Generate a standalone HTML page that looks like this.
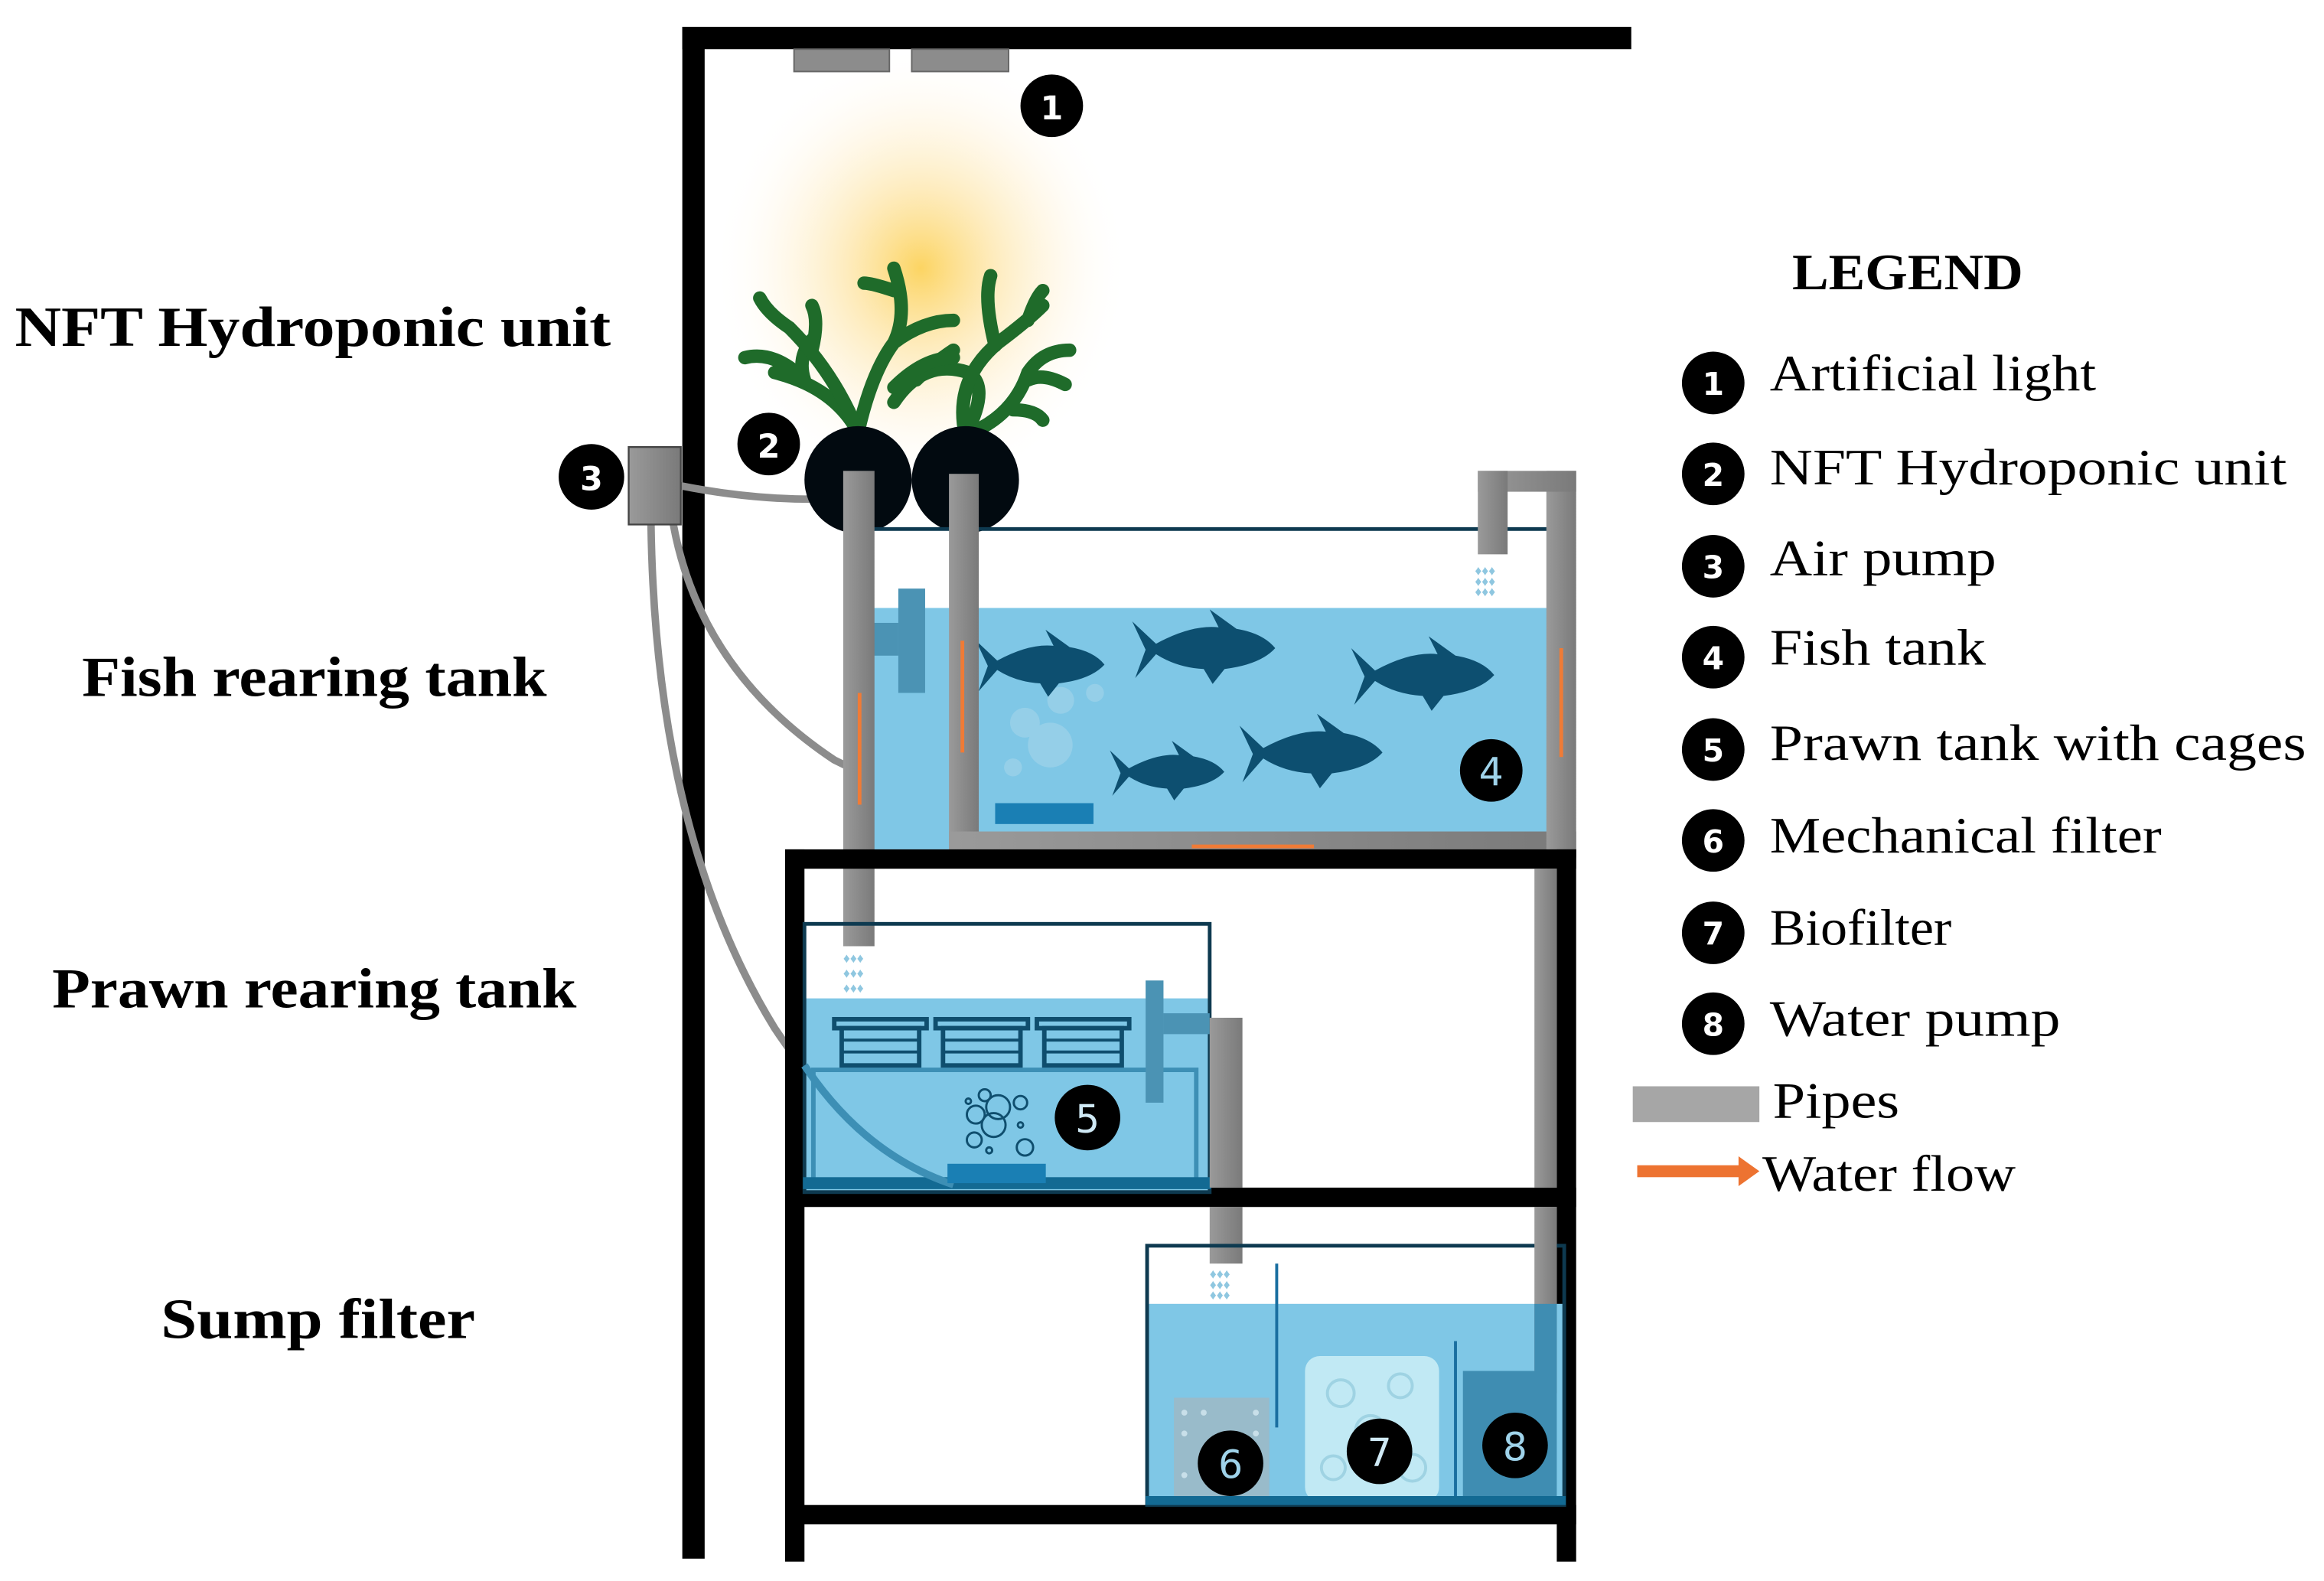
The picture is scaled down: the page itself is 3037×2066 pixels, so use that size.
<!DOCTYPE html>
<html><head><meta charset="utf-8"><style>
html,body{margin:0;padding:0;background:#fff;}
svg{display:block;}
</style></head><body>
<svg width="3037" height="2066" viewBox="0 0 1560 1061" preserveAspectRatio="none" xmlns="http://www.w3.org/2000/svg">
<defs>
<radialGradient id="glow" cx="0.5" cy="0.5" r="0.5">
<stop offset="0" stop-color="#fcd25a" stop-opacity="0.95"/>
<stop offset="0.35" stop-color="#fde3a0" stop-opacity="0.7"/>
<stop offset="0.7" stop-color="#fff3da" stop-opacity="0.4"/>
<stop offset="1" stop-color="#fff" stop-opacity="0"/>
</radialGradient>
<linearGradient id="pg" x1="0" x2="1" y1="0" y2="0">
<stop offset="0" stop-color="#9a9a9a"/><stop offset="1" stop-color="#7a7a7a"/>
</linearGradient>
<path id="fish" d="M0,2 L16,17 Q40,4 58,6 L52,-6 L70,7 Q88,10 96,20 Q86,31 62,34 L54,44 L48,34 Q30,33 16,24 L2,40 L9,21 Z" fill="#0d4f70"/>
</defs>
<rect width="1560" height="1061" fill="#fff"/>

<!-- glow -->
<ellipse cx="618" cy="180" rx="140" ry="150" fill="url(#glow)"/>

<!-- main frame -->
<rect x="458" y="18" width="15" height="1028" fill="#000"/>
<rect x="458" y="18" width="637" height="15" fill="#000"/>
<rect x="533" y="33" width="64" height="15" fill="#8c8c8c" stroke="#666" stroke-width="1"/>
<rect x="612" y="33" width="65" height="15" fill="#8c8c8c" stroke="#666" stroke-width="1"/>

<!-- plant -->
<g stroke="#1f6b2a" stroke-width="9" stroke-linecap="round" fill="none">
<path d="M576,290 Q560,260 520,250 M540,255 Q520,235 500,240 M540,255 Q535,240 545,228"/>
<path d="M576,290 Q585,250 600,230 Q610,210 600,180 M600,230 Q620,215 640,215 M600,195 Q585,190 580,190"/>
<path d="M576,290 Q560,250 530,220 M545,235 Q550,215 545,205 M530,220 Q515,210 510,200"/>
<path d="M600,270 Q620,240 650,250 Q665,260 648,292 M615,255 Q625,245 640,235"/>
<path d="M648,292 Q680,280 690,250 Q700,235 718,235 M690,255 Q700,250 715,258 M680,275 Q695,275 700,282"/>
<path d="M648,292 Q640,255 670,230 Q690,215 700,205 M668,232 Q660,200 665,185 M690,215 Q695,200 700,195"/>
<path d="M600,260 Q620,240 640,240"/>
</g>

<!-- air pump and tubes -->
<path d="M452,325 Q500,335 545,335" stroke="#8c8c8c" stroke-width="5" fill="none"/>
<path d="M452,352 Q470,450 560,510 Q620,540 670,545" stroke="#8c8c8c" stroke-width="5" fill="none"/>
<path d="M437,352 Q440,560 520,690 Q580,780 645,795" stroke="#8c8c8c" stroke-width="5" fill="none"/>
<rect x="422" y="300" width="35" height="52" fill="url(#pg)" stroke="#444" stroke-width="1.2"/>

<!-- NFT circles -->
<circle cx="576" cy="322" r="36" fill="#020a10"/>
<circle cx="648" cy="322" r="36" fill="#020a10"/>

<!-- fish tank -->
<rect x="585" y="408" width="455" height="162" fill="#7fc7e6"/>
<line x1="585" y1="355" x2="1040" y2="355" stroke="#0e3a50" stroke-width="2.5"/>
<rect x="603" y="395" width="18" height="70" fill="#4b93b4"/>
<rect x="585" y="418" width="18" height="22" fill="#4b93b4"/>
<g fill="#9fd3ea" opacity="0.7">
<circle cx="705" cy="500" r="15"/><circle cx="688" cy="485" r="10"/><circle cx="712" cy="470" r="9"/><circle cx="680" cy="515" r="6"/><circle cx="735" cy="465" r="6"/>
</g>
<use href="#fish" transform="translate(655,428) scale(0.9)"/>
<use href="#fish" transform="translate(760,415) scale(1)"/>
<use href="#fish" transform="translate(907,433) scale(1)"/>
<use href="#fish" transform="translate(832,485) scale(1)"/>
<use href="#fish" transform="translate(745,502) scale(0.8)"/>
<rect x="668" y="539" width="66" height="14" fill="#1a7fb4"/>
<!-- pipes fish tank -->
<rect x="637" y="318" width="20" height="257" fill="url(#pg)"/>
<rect x="637" y="558" width="421" height="17" fill="url(#pg)"/>
<rect x="1038" y="316" width="20" height="260" fill="url(#pg)"/>
<rect x="992" y="316" width="66" height="14" fill="url(#pg)"/>
<rect x="992" y="316" width="20" height="56" fill="url(#pg)"/>
<rect x="566" y="316" width="21" height="319" fill="url(#pg)"/>
<g stroke="#f07b36" stroke-width="2.5">
<line x1="577" y1="465" x2="577" y2="540"/>
<line x1="646" y1="430" x2="646" y2="505"/>
<line x1="1048" y1="435" x2="1048" y2="508"/>
<line x1="800" y1="568" x2="882" y2="568"/>
<line x1="824" y1="710" x2="824" y2="785"/>
<line x1="1038" y1="660" x2="1038" y2="738"/>
</g>
<!-- drops -->
<g fill="#8fc7e0" font-family="Liberation Sans" font-size="9">
<text x="990" y="386">♦♦♦</text><text x="990" y="393">♦♦♦</text><text x="990" y="400">♦♦♦</text>
<text x="566" y="646">♦♦♦</text><text x="566" y="656">♦♦♦</text><text x="566" y="666">♦♦♦</text>
<text x="812" y="858">♦♦♦</text><text x="812" y="865">♦♦♦</text><text x="812" y="872">♦♦♦</text>
</g>

<!-- shelf frame -->
<rect x="527" y="570" width="531" height="13" fill="#000"/>
<rect x="527" y="570" width="13" height="478" fill="#000"/>
<rect x="1045" y="570" width="13" height="478" fill="#000"/>
<rect x="527" y="797" width="531" height="13" fill="#000"/>
<rect x="527" y="1010" width="531" height="13" fill="#000"/>

<!-- prawn tank -->
<rect x="540" y="670" width="272" height="130" fill="#7fc7e6"/>
<rect x="540" y="620" width="272" height="180" fill="none" stroke="#0e3a50" stroke-width="2.5"/>
<path d="M546,797 L546,718 L803,718 L803,797" stroke="#3d8fb5" stroke-width="3" fill="none"/>
<rect x="539" y="790" width="274" height="8" fill="#136a93"/>
<path d="M540,715 Q580,775 640,795" stroke="#3d8fb5" stroke-width="5" fill="none"/>
<rect x="636" y="781" width="66" height="13" fill="#1a7fb4"/>
<g fill="none" stroke="#0f4e6e" stroke-width="3">
<rect x="560" y="684" width="62" height="6"/><rect x="565" y="690" width="52" height="25"/>
<rect x="628" y="684" width="62" height="6"/><rect x="633" y="690" width="52" height="25"/>
<rect x="696" y="684" width="62" height="6"/><rect x="701" y="690" width="52" height="25"/>
<path d="M565,698 H617 M565,706 H617 M633,698 H685 M633,706 H685 M701,698 H753 M701,706 H753" stroke-width="2"/>
</g>
<g fill="none" stroke="#0f4e6e" stroke-width="1.5">
<circle cx="670" cy="743" r="8"/><circle cx="667" cy="755" r="8"/><circle cx="655" cy="748" r="6"/><circle cx="685" cy="740" r="4.5"/><circle cx="661" cy="735" r="4"/><circle cx="654" cy="765" r="5"/><circle cx="688" cy="770" r="5.5"/><circle cx="650" cy="739" r="1.8"/><circle cx="685" cy="755" r="1.8"/><circle cx="664" cy="772" r="2"/>
</g>
<rect x="769" y="658" width="12" height="82" fill="#4b93b4"/>
<rect x="781" y="680" width="31" height="14" fill="#4b93b4"/>
<rect x="812" y="683" width="22" height="114" fill="url(#pg)"/>
<rect x="812" y="810" width="22" height="38" fill="url(#pg)"/>

<!-- sump -->
<rect x="770" y="875" width="280" height="135" fill="#7fc7e6"/>
<rect x="770" y="836" width="280" height="174" fill="none" stroke="#0e3a50" stroke-width="2.5"/>
<rect x="1030" y="583" width="15" height="214" fill="url(#pg)"/>
<rect x="1030" y="810" width="15" height="125" fill="url(#pg)"/>
<path d="M982,1008 L982,920 L1030,920 L1030,875 L1045,875 L1045,1008 Z" fill="#3f8db2"/>
<line x1="977" y1="900" x2="977" y2="1008" stroke="#1a6fa0" stroke-width="2"/>
<line x1="857" y1="848" x2="857" y2="958" stroke="#1a6fa0" stroke-width="2"/>
<rect x="788" y="938" width="64" height="70" fill="#9db8c4" opacity="0.85"/>
<g fill="#c8dfe9"><circle cx="795" cy="948" r="2"/><circle cx="808" cy="948" r="2"/><circle cx="795" cy="962" r="2"/><circle cx="808" cy="975" r="2"/><circle cx="795" cy="990" r="2"/><circle cx="843" cy="948" r="2"/><circle cx="843" cy="962" r="2"/></g>
<rect x="876" y="910" width="90" height="98" rx="10" fill="#c9ecf5" opacity="0.9"/>
<g fill="none" stroke="#9fd3e3" stroke-width="2"><circle cx="900" cy="935" r="9"/><circle cx="940" cy="930" r="8"/><circle cx="920" cy="960" r="10"/><circle cx="895" cy="985" r="8"/><circle cx="948" cy="985" r="9"/></g>
<rect x="769" y="1004" width="282" height="6" fill="#136a93"/>

<!-- badges -->
<g fill="#000">
<circle cx="706" cy="71" r="21"/><circle cx="516" cy="298" r="21"/><circle cx="397" cy="320" r="22"/>
<circle cx="1001" cy="517" r="21"/><circle cx="730" cy="750" r="22"/><circle cx="826" cy="982" r="22"/><circle cx="926" cy="974" r="22"/><circle cx="1017" cy="970" r="22"/>
</g>
<g fill="#fff" font-family="DejaVu Sans, sans-serif" font-size="26" text-anchor="middle">
<text x="706" y="80" font-size="22" font-weight="bold">1</text>
<text x="516" y="307" font-size="22" font-weight="bold">2</text>
<text x="397" y="329" font-size="22" font-weight="bold">3</text>
<text x="1001" y="527" fill="#9fd3ea">4</text>
<text x="730" y="760" fill="#cfe9f5">5</text>
<text x="826" y="992" fill="#9fd3ea">6</text>
<text x="926" y="984" fill="#cfe9f5">7</text>
<text x="1017" y="980" fill="#9fd3ea">8</text>
</g>

<!-- left labels -->
<g font-family="Liberation Serif, serif" font-weight="bold" font-size="38" fill="#000">
<text x="10" y="232" textLength="400" lengthAdjust="spacingAndGlyphs">NFT Hydroponic unit</text>
<text x="55" y="467" textLength="312" lengthAdjust="spacingAndGlyphs">Fish rearing tank</text>
<text x="35" y="676" textLength="352" lengthAdjust="spacingAndGlyphs">Prawn rearing tank</text>
<text x="108" y="898" textLength="211" lengthAdjust="spacingAndGlyphs">Sump filter</text>
<text x="1203" y="194" font-size="34" textLength="155" lengthAdjust="spacingAndGlyphs">LEGEND</text>
</g>

<!-- legend -->
<g fill="#000">
<circle cx="1150" cy="257" r="21"/><circle cx="1150" cy="318" r="21"/><circle cx="1150" cy="380" r="21"/><circle cx="1150" cy="441" r="21"/><circle cx="1150" cy="503" r="21"/><circle cx="1150" cy="564" r="21"/><circle cx="1150" cy="626" r="21"/><circle cx="1150" cy="687" r="21"/>
</g>
<g fill="#fff" font-family="DejaVu Sans, sans-serif" font-weight="bold" font-size="21" text-anchor="middle">
<text x="1150" y="265">1</text><text x="1150" y="326">2</text><text x="1150" y="388">3</text><text x="1150" y="449">4</text><text x="1150" y="511">5</text><text x="1150" y="572">6</text><text x="1150" y="634">7</text><text x="1150" y="695">8</text>
</g>
<g font-family="Liberation Serif, serif" font-size="34" fill="#000">
<text x="1188" y="262" textLength="219" lengthAdjust="spacingAndGlyphs">Artificial  light</text>
<text x="1188" y="325" textLength="347" lengthAdjust="spacingAndGlyphs">NFT Hydroponic  unit</text>
<text x="1188" y="386" textLength="152" lengthAdjust="spacingAndGlyphs">Air pump</text>
<text x="1188" y="446" textLength="145" lengthAdjust="spacingAndGlyphs">Fish tank</text>
<text x="1188" y="510" textLength="360" lengthAdjust="spacingAndGlyphs">Prawn tank with cages</text>
<text x="1188" y="572" textLength="263" lengthAdjust="spacingAndGlyphs">Mechanical filter</text>
<text x="1188" y="634" textLength="122" lengthAdjust="spacingAndGlyphs">Biofilter</text>
<text x="1188" y="695" textLength="195" lengthAdjust="spacingAndGlyphs">Water pump</text>
<text x="1190" y="750" textLength="85" lengthAdjust="spacingAndGlyphs">Pipes</text>
<text x="1183" y="799" textLength="170" lengthAdjust="spacingAndGlyphs">Water flow</text>
</g>
<rect x="1096" y="729" width="85" height="24" fill="#a6a6a6"/>
<rect x="1099" y="782" width="70" height="8" fill="#ed7331"/>
<polygon points="1167,776 1181,786 1167,796" fill="#ed7331"/>
</svg>
</body></html>
